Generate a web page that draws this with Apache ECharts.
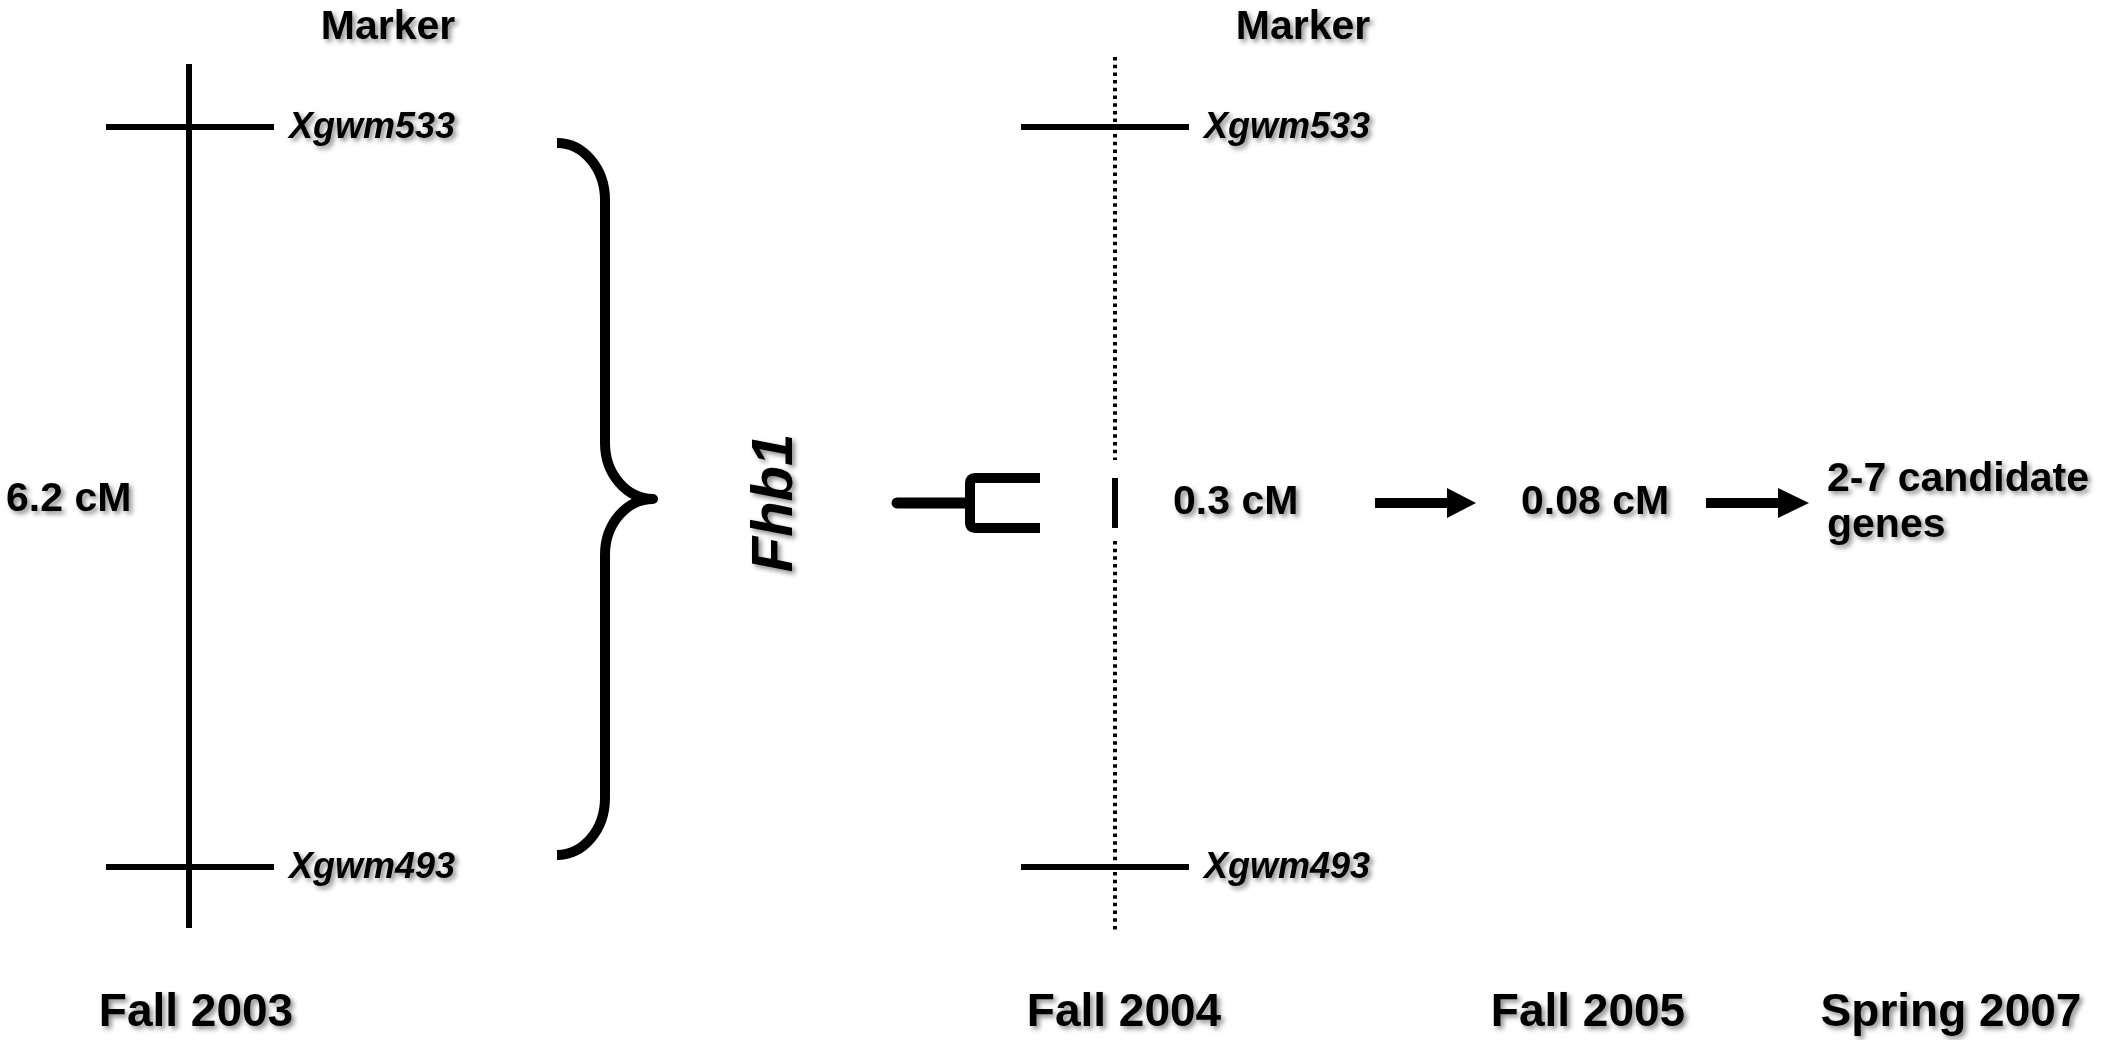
<!DOCTYPE html>
<html><head><meta charset="utf-8">
<script src="https://cdn.jsdelivr.net/npm/echarts@6/dist/echarts.min.js"></script>
<style>html,body{margin:0;padding:0;background:#fff}#c{width:2101px;height:1040px}</style>
</head><body><div id="c"></div>
<script>
// ---------------- data ----------------
const markerNames = ['Xgwm533', 'Xgwm493'];
const markerCM = [0, 6.2];
const geneName = 'Fhb1';
const geneCM = 3.15;
const headerText = 'Marker';
const stageLabels = ['Fall 2003', 'Fall 2004', 'Fall 2005', 'Spring 2007'];
const intervalLabels = ['6.2 cM', '0.3 cM', '0.08 cM', '2-7 candidate\ngenes'];

// ---------------- layout (pixels, not data) ----------------
const W = 2101, H = 1040;
const topPx = 127, botPx = 867;
const pxPerCM = (botPx - topPx) / (markerCM[1] - markerCM[0]);
const yMin = markerCM[0] - topPx / pxPerCM;
const yMax = markerCM[1] + (H - botPx) / pxPerCM;
const LAY = {
  leftMapX: 189, leftTick: [106, 274], leftLabelX: 289, leftHeaderX: 388,
  rightMapX: 1115, rightTick: [1021, 1189], rightLabelX: 1204, rightHeaderX: 1303,
  headerY: 28, stageY: 1013,
  stageX: [196, 1124, 1588, 1951],
  intervalX: [6, 1173, 1521, 1827],
  geneX: 776
};
const FONT = '"Liberation Sans", Arial, Helvetica, sans-serif';
const shadow = { textShadowColor: 'rgba(0,0,0,0.45)', textShadowBlur: 5, textShadowOffsetX: 3, textShadowOffsetY: 3 };
function txt(x, y, text, font, align, extra) {
  return Object.assign({
    type: 'text', x: x, y: y,
    style: Object.assign({ text: text, font: font, fill: '#000', align: align || 'left', verticalAlign: 'middle', lineHeight: 46 }, shadow)
  }, extra || {});
}
function line(x1, y1, x2, y2, w, extra) {
  return { type: 'line', shape: { x1: x1, y1: y1, x2: x2, y2: y2 }, style: Object.assign({ stroke: '#000', lineWidth: w, lineCap: 'butt' }, extra || {}) };
}

const chart = echarts.init(document.getElementById('c'), null, { renderer: 'canvas' });
const option = {
  animation: false,
  backgroundColor: '#fff',
  grid: { left: 0, right: 0, top: 0, bottom: 0 },
  xAxis: { type: 'value', min: 0, max: W, show: false },
  yAxis: { type: 'value', inverse: true, min: yMin, max: yMax, show: false },
  series: [
    // map frames, brace, fork, arrows, headers
    {
      type: 'custom', silent: true, clip: false,
      data: [[0, geneCM]],
      renderItem: function (params, api) {
        const X = v => api.coord([v, 0])[0];
        const Y = v => api.coord([0, v])[1];
        const yTop = Y(markerCM[0]), yBot = Y(markerCM[1]), row = Y(api.value(1));
        const ch = [];
        // left chromosome (solid)
        ch.push(line(X(LAY.leftMapX), yTop - 63, X(LAY.leftMapX), yBot + 61, 6));
        // right chromosome (dotted, interrupted around gene)
        const rx = X(LAY.rightMapX);
        ch.push(line(rx, yTop - 70, rx, row - 43, 4, { lineDash: [3.5, 4.2] }));
        ch.push(line(rx, row + 38, rx, yBot + 66, 4, { lineDash: [3.5, 4.2] }));
        ch.push(line(rx, row - 25, rx, row + 25, 6));
        // headers
        ch.push(txt(X(LAY.leftHeaderX), LAY.headerY, headerText, 'bold 41px ' + FONT, 'center'));
        ch.push(txt(X(LAY.rightHeaderX), LAY.headerY, headerText, 'bold 41px ' + FONT, 'center'));
        // brace
        const k = 0.5523;
        const xe = X(557), xv = X(605), xt = X(653);
        const t = yTop + 16, b = yBot - 12, tip = row - 4, rxx = xv - xe, ry1 = 57, ry2 = 56;
        const d = 'M' + xe + ',' + t +
          ' C' + (xe + k * rxx) + ',' + t + ' ' + xv + ',' + (t + ry1 - k * ry1) + ' ' + xv + ',' + (t + ry1) +
          ' L' + xv + ',' + (tip - ry2) +
          ' C' + xv + ',' + (tip - ry2 + k * ry2) + ' ' + (xt - k * rxx) + ',' + tip + ' ' + xt + ',' + tip +
          ' C' + (xt - k * rxx) + ',' + tip + ' ' + xv + ',' + (tip + ry2 - k * ry2) + ' ' + xv + ',' + (tip + ry2) +
          ' L' + xv + ',' + (b - ry1) +
          ' C' + xv + ',' + (b - ry1 + k * ry1) + ' ' + (xe + k * rxx) + ',' + b + ' ' + xe + ',' + b;
        ch.push({ type: 'path', shape: { pathData: d }, style: { fill: 'none', stroke: '#000', lineWidth: 10, lineJoin: 'round', lineCap: 'butt' } });
        // fork
        ch.push(line(X(897), row, X(968), row, 11, { lineCap: 'round' }));
        const fd = 'M' + X(1040) + ',' + (row - 25) + ' L' + X(975) + ',' + (row - 25) +
          ' Q' + X(970) + ',' + (row - 25) + ' ' + X(970) + ',' + (row - 20) +
          ' L' + X(970) + ',' + (row + 20) +
          ' Q' + X(970) + ',' + (row + 25) + ' ' + X(975) + ',' + (row + 25) +
          ' L' + X(1040) + ',' + (row + 25);
        ch.push({ type: 'path', shape: { pathData: fd }, style: { fill: 'none', stroke: '#000', lineWidth: 10, lineJoin: 'round' } });
        // arrows
        [[1375, 1447, 1476], [1706, 1778, 1809]].forEach(a => {
          ch.push(line(X(a[0]), row, X(a[1]) + 1, row, 10));
          ch.push({ type: 'polygon', shape: { points: [[X(a[1]), row - 15], [X(a[2]), row], [X(a[1]), row + 15]] }, style: { fill: '#000' } });
        });
        return { type: 'group', children: ch };
      }
    },
    // markers on both maps
    {
      type: 'custom', silent: true, clip: false,
      data: markerCM.map((cm, i) => [0, cm, i]),
      renderItem: function (params, api) {
        const X = v => api.coord([v, 0])[0];
        const y = api.coord([0, api.value(1)])[1];
        const name = markerNames[api.value(2)];
        const f = 'italic bold 36px ' + FONT;
        return { type: 'group', children: [
          line(X(LAY.leftTick[0]), y, X(LAY.leftTick[1]), y, 6),
          line(X(LAY.rightTick[0]), y, X(LAY.rightTick[1]), y, 6),
          txt(X(LAY.leftLabelX), y + 1, name, f, 'left'),
          txt(X(LAY.rightLabelX), y + 1, name, f, 'left')
        ] };
      }
    },
    // gene name
    {
      type: 'custom', silent: true, clip: false,
      data: [[LAY.geneX, geneCM]],
      renderItem: function (params, api) {
        const p = api.coord([api.value(0), api.value(1)]);
        return txt(p[0], p[1], geneName, 'italic bold 58px ' + FONT, 'center', { rotation: Math.PI / 2 });
      }
    },
    // interval sizes
    {
      type: 'custom', silent: true, clip: false,
      data: intervalLabels.map((s, i) => [LAY.intervalX[i], geneCM, i]),
      renderItem: function (params, api) {
        const p = api.coord([api.value(0), api.value(1)]);
        const i = api.value(2);
        return txt(p[0], p[1] + (i === 0 ? -3 : 0), intervalLabels[i], 'bold 41px ' + FONT, 'left');
      }
    },
    // stages
    {
      type: 'custom', silent: true, clip: false,
      data: stageLabels.map((s, i) => [LAY.stageX[i], 0, i]),
      renderItem: function (params, api) {
        const x = api.coord([api.value(0), 0])[0];
        return txt(x, LAY.stageY, stageLabels[api.value(2)], 'bold 46px ' + FONT, 'center');
      }
    }
  ]
};
chart.setOption(option);
</script></body></html>
